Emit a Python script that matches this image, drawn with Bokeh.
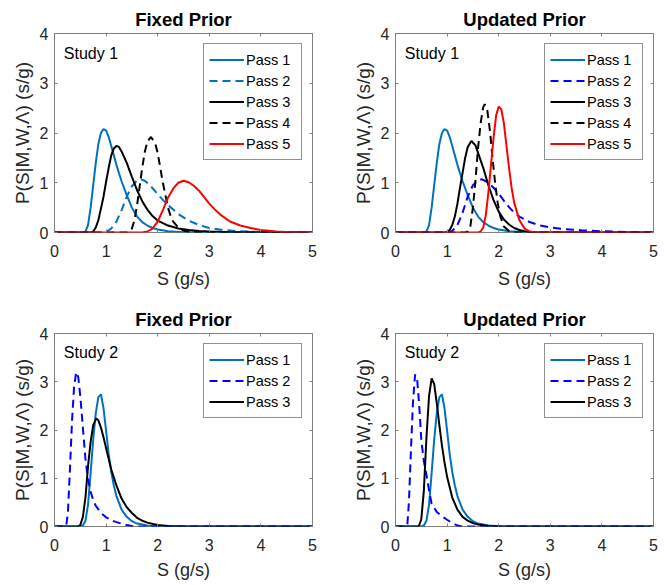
from bokeh.plotting import figure
from bokeh.models import Range1d, FixedTicker, LinearAxis, Legend, LegendItem, Label
from bokeh.layouts import column, row
from bokeh.embed import file_html
from bokeh.resources import INLINE

FONT = "Liberation Sans"
BLUE = "#0072BD"
PURE_BLUE = "#0000FF"
BLACK = "#000000"
RED = "#FF0000"
FRAME = "#808080"
TEXT = "#262626"

x_ticks = [0, 1, 2, 3, 4, 5]
y_ticks = [0, 1, 2, 3, 4]
x_label = "S (g/s)"
y_label = "P(S|M,W,\u039b) (s/g)"
titles = ["Fixed Prior", "Updated Prior", "Fixed Prior", "Updated Prior"]
studies = ["Study 1", "Study 1", "Study 2", "Study 2"]
pass_labels = ["Pass 1", "Pass 2", "Pass 3", "Pass 4", "Pass 5"]

# ---------------- Study 1 ----------------
s1_pass1_x = [0, 0.55, 0.6, 0.65, 0.7, 0.75, 0.8, 0.85, 0.9, 0.95, 1.0, 1.05, 1.1, 1.15, 1.2, 1.25, 1.3,
              1.4, 1.5, 1.6, 1.7, 1.8, 1.9, 2.0, 2.2, 2.5, 5]
s1_pass1_y = [0, 0, 0.02, 0.15, 0.5, 0.95, 1.4, 1.78, 2.0, 2.08, 2.05, 1.92, 1.74, 1.55, 1.36, 1.19, 1.03,
              0.75, 0.5, 0.32, 0.21, 0.14, 0.09, 0.06, 0.025, 0.007, 0]

s1_fixed_pass2_x = [0, 0.95, 1.0, 1.1, 1.2, 1.3, 1.4, 1.5, 1.6, 1.67, 1.75, 1.85, 1.95, 2.05, 2.2, 2.3, 2.4,
                    2.6, 2.8, 3.0, 3.2, 3.5, 4.0, 4.5, 5]
s1_fixed_pass2_y = [0, 0, 0.01, 0.08, 0.22, 0.45, 0.72, 0.93, 1.05, 1.07, 1.04, 0.95, 0.83, 0.71, 0.55, 0.46, 0.37,
                    0.24, 0.15, 0.09, 0.06, 0.03, 0.01, 0.0, 0]

s1_fixed_pass3_x = [0, 0.7, 0.75, 0.8, 0.85, 0.9, 0.95, 1.0, 1.05, 1.1, 1.15, 1.2, 1.25, 1.3, 1.4, 1.5, 1.6,
                    1.7, 1.8, 1.9, 2.0, 2.2, 2.4, 2.6, 2.8, 3.0, 3.5, 4.0, 5]
s1_fixed_pass3_y = [0, 0, 0.02, 0.1, 0.25, 0.48, 0.72, 1.02, 1.3, 1.55, 1.69, 1.74, 1.72, 1.63, 1.4, 1.12, 0.85,
                    0.63, 0.46, 0.33, 0.24, 0.14, 0.08, 0.05, 0.03, 0.02, 0.005, 0, 0]

s1_fixed_pass4_x = [0, 1.4, 1.45, 1.5, 1.55, 1.6, 1.65, 1.7, 1.75, 1.8, 1.87, 1.95, 2.0, 2.05, 2.1, 2.15, 2.2,
                    2.25, 2.3, 2.4, 2.5, 2.6, 2.8, 5]
s1_fixed_pass4_y = [0, 0, 0.02, 0.08, 0.25, 0.55, 0.92, 1.3, 1.62, 1.83, 1.92, 1.8, 1.6, 1.3, 1.0, 0.75, 0.5,
                    0.33, 0.22, 0.1, 0.04, 0.01, 0, 0]

s1_fixed_pass5_x = [0, 1.7, 1.8, 1.9, 2.0, 2.1, 2.2, 2.3, 2.4, 2.5, 2.6, 2.7, 2.8, 2.9, 3.0, 3.1, 3.2, 3.4,
                    3.6, 3.8, 4.0, 4.3, 4.6, 5]
s1_fixed_pass5_y = [0, 0, 0.02, 0.08, 0.22, 0.45, 0.7, 0.88, 1.0, 1.04, 1.01, 0.94, 0.84, 0.71, 0.58, 0.47, 0.37, 0.22,
                    0.14, 0.09, 0.05, 0.02, 0.005, 0]

s1_upd_pass2_x = [0, 1.0, 1.1, 1.2, 1.3, 1.4, 1.5, 1.6, 1.68, 1.8, 1.9, 2.0, 2.1, 2.2, 2.3, 2.4, 2.6, 2.8, 3.0,
                  3.3, 3.6, 4.0, 4.5, 5]
s1_upd_pass2_y = [0, 0, 0.03, 0.15, 0.4, 0.72, 0.95, 1.05, 1.07, 1.0, 0.9, 0.78, 0.64, 0.51, 0.4, 0.32, 0.21, 0.14, 0.1,
                  0.065, 0.045, 0.025, 0.01, 0]

s1_upd_pass3_x = [0, 0.95, 1.0, 1.05, 1.1, 1.15, 1.2, 1.25, 1.3, 1.35, 1.4, 1.47, 1.55, 1.6, 1.7, 1.8, 1.9,
                  2.0, 2.1, 2.2, 2.3, 2.4, 2.5, 2.7, 3.0, 5]
s1_upd_pass3_y = [0, 0, 0.01, 0.05, 0.15, 0.32, 0.58, 0.9, 1.2, 1.5, 1.72, 1.84, 1.75, 1.6, 1.3, 0.95, 0.65,
                  0.42, 0.26, 0.16, 0.09, 0.05, 0.025, 0.005, 0, 0]

s1_upd_pass4_x = [0, 1.35, 1.4, 1.45, 1.5, 1.55, 1.6, 1.65, 1.7, 1.73, 1.78, 1.83, 1.88, 1.93, 1.98, 2.03,
                  2.1, 2.2, 2.3, 5]
s1_upd_pass4_y = [0, 0, 0.02, 0.12, 0.5, 1.05, 1.7, 2.2, 2.52, 2.58, 2.45, 2.05, 1.5, 1.0, 0.6, 0.33,
                  0.12, 0.03, 0, 0]

s1_upd_pass5_x = [0, 1.6, 1.65, 1.7, 1.75, 1.8, 1.85, 1.9, 1.95, 2.0, 2.05, 2.1, 2.15, 2.2, 2.25, 2.3, 2.4,
                  2.5, 2.6, 2.7, 5]
s1_upd_pass5_y = [0, 0, 0.02, 0.1, 0.35, 0.8, 1.35, 1.9, 2.35, 2.53, 2.48, 2.2, 1.75, 1.3, 0.9, 0.6, 0.25,
                  0.08, 0.02, 0, 0]

# ---------------- Study 2 ----------------
s2_pass1_x = [0, 0.5, 0.55, 0.6, 0.65, 0.7, 0.75, 0.8, 0.85, 0.9, 0.95, 1.0, 1.05, 1.1, 1.15, 1.2, 1.3,
              1.4, 1.5, 1.6, 1.8, 2.0, 2.2, 5]
s2_pass1_y = [0, 0, 0.02, 0.12, 0.45, 1.1, 1.8, 2.35, 2.68, 2.74, 2.45, 1.98, 1.5, 1.13, 0.85, 0.63, 0.35,
              0.2, 0.11, 0.06, 0.02, 0.005, 0, 0]

s2_fixed_pass2_x = [0, 0.2, 0.23, 0.26, 0.3, 0.34, 0.38, 0.42, 0.46, 0.5, 0.55, 0.6, 0.65, 0.7, 0.75, 0.8,
                    0.9, 1.0, 1.1, 1.2, 1.3, 1.4, 1.5, 1.6, 5]
s2_fixed_pass2_y = [0, 0, 0.03, 0.3, 1.2, 2.2, 2.9, 3.2, 3.1, 2.7, 2.05, 1.4, 0.98, 0.72, 0.55, 0.43,
                    0.28, 0.19, 0.13, 0.09, 0.06, 0.03, 0.01, 0, 0]

s2_fixed_pass3_x = [0, 0.45, 0.5, 0.55, 0.6, 0.65, 0.7, 0.75, 0.81, 0.85, 0.9, 0.95, 1.0, 1.1, 1.2, 1.3,
                    1.4, 1.5, 1.6, 1.7, 1.8, 2.0, 2.2, 2.5, 5]
s2_fixed_pass3_y = [0, 0, 0.03, 0.2, 0.6, 1.25, 1.75, 2.1, 2.24, 2.2, 2.05, 1.85, 1.62, 1.18, 0.85, 0.58,
                    0.4, 0.28, 0.18, 0.12, 0.08, 0.03, 0.01, 0, 0]

s2_upd_pass2_x = [0, 0.2, 0.23, 0.26, 0.3, 0.34, 0.38, 0.42, 0.46, 0.5, 0.55, 0.6, 0.65, 0.7, 0.8, 0.9,
                  1.0, 1.1, 1.2, 1.3, 5]
s2_upd_pass2_y = [0, 0, 0.05, 0.5, 1.6, 2.6, 3.15, 3.05, 2.5, 1.8, 1.35, 1.07, 0.75, 0.47, 0.3, 0.21,
                  0.14, 0.07, 0.02, 0, 0]

s2_upd_pass3_x = [0, 0.45, 0.5, 0.55, 0.6, 0.65, 0.7, 0.75, 0.8, 0.85, 0.9, 0.95, 1.0, 1.1, 1.2, 1.3,
                  1.4, 1.5, 1.6, 1.8, 2.0, 5]
s2_upd_pass3_y = [0, 0, 0.15, 0.75, 1.85, 2.7, 3.07, 2.95, 2.55, 2.1, 1.68, 1.33, 1.03, 0.6, 0.35, 0.2,
                  0.12, 0.07, 0.04, 0.01, 0, 0]

SOLID = "solid"
DASH = "8 5"

panel_curves = [
    [(s1_pass1_x, s1_pass1_y, BLUE, SOLID),
     (s1_fixed_pass2_x, s1_fixed_pass2_y, BLUE, DASH),
     (s1_fixed_pass3_x, s1_fixed_pass3_y, BLACK, SOLID),
     (s1_fixed_pass4_x, s1_fixed_pass4_y, BLACK, DASH),
     (s1_fixed_pass5_x, s1_fixed_pass5_y, RED, SOLID)],
    [(s1_pass1_x, s1_pass1_y, BLUE, SOLID),
     (s1_upd_pass2_x, s1_upd_pass2_y, PURE_BLUE, DASH),
     (s1_upd_pass3_x, s1_upd_pass3_y, BLACK, SOLID),
     (s1_upd_pass4_x, s1_upd_pass4_y, BLACK, DASH),
     (s1_upd_pass5_x, s1_upd_pass5_y, RED, SOLID)],
    [(s2_pass1_x, s2_pass1_y, BLUE, SOLID),
     (s2_fixed_pass2_x, s2_fixed_pass2_y, PURE_BLUE, DASH),
     (s2_fixed_pass3_x, s2_fixed_pass3_y, BLACK, SOLID)],
    [(s2_pass1_x, s2_pass1_y, BLUE, SOLID),
     (s2_upd_pass2_x, s2_upd_pass2_y, PURE_BLUE, DASH),
     (s2_upd_pass3_x, s2_upd_pass3_y, BLACK, SOLID)],
]


def mirror_axis(ticks):
    ax = LinearAxis(ticker=FixedTicker(ticks=ticks))
    ax.major_label_overrides = {t: "" for t in ticks}
    ax.major_label_text_font_size = "0px"
    ax.major_label_standoff = 0
    ax.major_tick_in = 3
    ax.major_tick_out = 0
    ax.minor_tick_line_color = None
    ax.axis_line_color = None
    ax.major_tick_line_color = FRAME
    return ax


def make_panel(idx, w, h, bl, br, bt, bb, x_stand, xl_stand, t_stand):
    p = figure(width=w, height=h, x_range=Range1d(0, 5), y_range=Range1d(0, 4),
               output_backend="svg", toolbar_location=None,
               min_border_left=bl, min_border_right=br,
               min_border_top=bt, min_border_bottom=bb)
    p.background_fill_color = "white"
    p.border_fill_color = "white"
    p.outline_line_color = FRAME
    p.outline_line_width = 1
    p.xgrid.visible = False
    p.ygrid.visible = False

    p.title.text = titles[idx]
    p.title.align = "center"
    p.title.text_font = FONT
    p.title.text_font_size = "18.5px"
    p.title.text_font_style = "bold"
    p.title.text_color = "black"
    p.title.standoff = t_stand

    xa = p.xaxis[0]
    xa.ticker = FixedTicker(ticks=x_ticks)
    xa.axis_label = x_label
    xa.major_label_standoff = x_stand
    xa.axis_label_standoff = xl_stand
    xa.axis_label_text_font_size = "18px"
    ya = p.yaxis[0]
    ya.ticker = FixedTicker(ticks=y_ticks)
    ya.axis_label = y_label
    ya.major_label_standoff = 6
    ya.axis_label_standoff = 4
    ya.axis_label_text_font_size = "19px"
    for ax in (xa, ya):
        ax.axis_line_color = None
        ax.major_tick_in = 3
        ax.major_tick_out = 0
        ax.major_tick_line_color = FRAME
        ax.minor_tick_line_color = None
        ax.major_label_text_font = FONT
        ax.major_label_text_font_size = "16px"
        ax.major_label_text_color = TEXT
        ax.axis_label_text_font = FONT
        ax.axis_label_text_font_style = "normal"
        ax.axis_label_text_color = TEXT

    p.add_layout(mirror_axis(x_ticks), "above")
    p.add_layout(mirror_axis(y_ticks), "right")

    items = []
    for k, (xs, ys, color, dash) in enumerate(panel_curves[idx]):
        r = p.line(xs, ys, line_color=color, line_width=2, line_dash=dash)
        items.append(LegendItem(label=pass_labels[k], renderers=[r]))

    legend = Legend(items=items, location="top_right", margin=10, padding=5, spacing=0,
                    glyph_width=35, glyph_height=21, label_height=21, label_width=50,
                    label_standoff=2, label_text_font=FONT, label_text_font_size="14.5px",
                    label_text_color="black", border_line_color=TEXT, border_line_width=1,
                    background_fill_color="white", background_fill_alpha=1.0)
    p.add_layout(legend)

    p.add_layout(Label(x=0.18, y=3.6, text=studies[idx], text_font=FONT,
                       text_font_size="16px", text_baseline="middle", text_align="left",
                       text_color="black"))
    return p


tl = make_panel(0, 348, 292, 54, 36, 32, 60, 12, 9, 8)
tr = make_panel(1, 316, 292, 47, 11, 33, 57, 12, 9, 8)
bl = make_panel(2, 348, 293, 54, 36, 41, 59, 12, 6, 8)
br = make_panel(3, 316, 293, 47, 11, 40, 57, 12, 6, 8)

layout = column(row(tl, tr), row(bl, br))

with open("out.html", "w") as f:
    f.write(file_html(layout, INLINE))
